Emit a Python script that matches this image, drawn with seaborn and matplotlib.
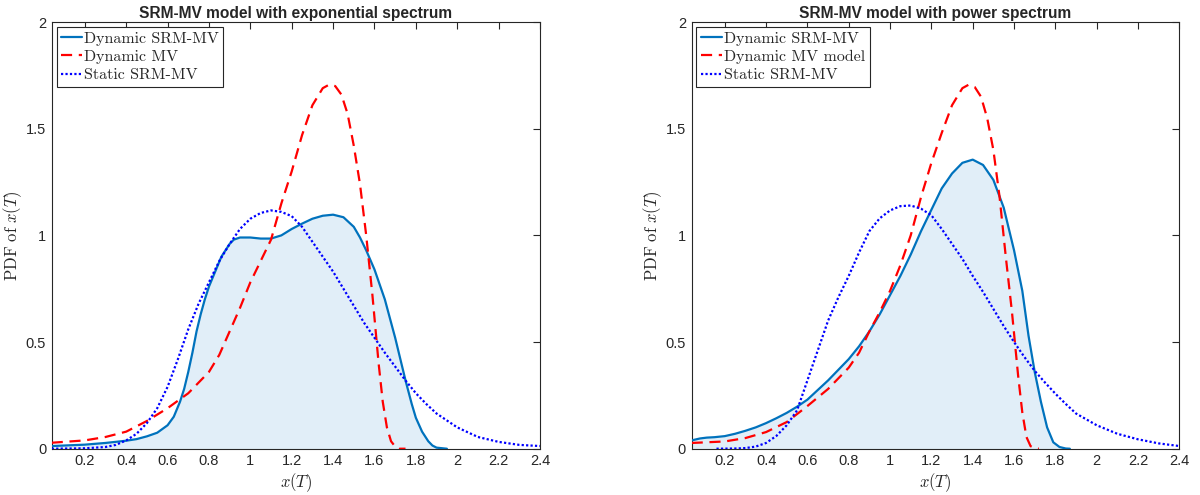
import numpy as np
import pandas as pd
import matplotlib
matplotlib.use('Agg')
import matplotlib.pyplot as plt
import seaborn as sns

# ---- data ----
# left panel: exponential spectrum
exp_dyn_x = [0.04, 0.2, 0.3, 0.4, 0.45, 0.5, 0.55, 0.6, 0.63, 0.66, 0.68, 0.7, 0.72, 0.74, 0.76, 0.78,
             0.8, 0.83, 0.86, 0.88, 0.9, 0.92, 0.95, 1.0, 1.05, 1.1, 1.15, 1.2, 1.25, 1.3, 1.35, 1.4,
             1.45, 1.5, 1.53, 1.56, 1.6, 1.65, 1.7, 1.75, 1.78, 1.8, 1.83, 1.86, 1.88, 1.9, 1.95]
exp_dyn_y = [0.0125, 0.019, 0.027, 0.0375, 0.045, 0.058, 0.075, 0.11, 0.15, 0.22, 0.28, 0.36, 0.45, 0.55,
             0.63, 0.70, 0.76, 0.83, 0.9, 0.93, 0.96, 0.98, 0.99, 0.99, 0.985, 0.985, 1.0, 1.03, 1.055,
             1.078, 1.092, 1.097, 1.085, 1.04, 0.99, 0.93, 0.84, 0.7, 0.52, 0.32, 0.21, 0.145, 0.08,
             0.035, 0.015, 0.005, 0.0]

exp_mv_x = [0.04, 0.2, 0.3, 0.4, 0.5, 0.6, 0.7, 0.8, 0.85, 0.9, 0.95, 1.0, 1.05, 1.1, 1.15, 1.2, 1.25,
            1.3, 1.35, 1.38, 1.41, 1.44, 1.47, 1.5, 1.53, 1.56, 1.59, 1.62, 1.64, 1.66, 1.68, 1.7, 1.72, 1.75]
exp_mv_y = [0.028, 0.039, 0.055, 0.08, 0.13, 0.19, 0.26, 0.36, 0.44, 0.55, 0.66, 0.78, 0.88, 0.98, 1.15,
            1.3, 1.47, 1.61, 1.69, 1.706, 1.70, 1.66, 1.57, 1.42, 1.24, 1.0, 0.72, 0.40, 0.22, 0.1, 0.035,
            0.01, 0.0, 0.0]

exp_st_x = [0.04, 0.2, 0.3, 0.35, 0.4, 0.45, 0.5, 0.55, 0.6, 0.65, 0.7, 0.75, 0.8, 0.85, 0.9, 0.95, 1.0,
            1.05, 1.1, 1.15, 1.2, 1.25, 1.3, 1.35, 1.4, 1.45, 1.5, 1.55, 1.6, 1.65, 1.7, 1.75, 1.8, 1.85,
            1.9, 2.0, 2.1, 2.2, 2.3, 2.4]
exp_st_y = [0.0, 0.002, 0.008, 0.018, 0.039, 0.07, 0.12, 0.19, 0.29, 0.42, 0.56, 0.68, 0.78, 0.88, 0.96,
            1.03, 1.078, 1.105, 1.117, 1.11, 1.09, 1.04, 0.97, 0.9, 0.83, 0.75, 0.67, 0.59, 0.52, 0.45,
            0.385, 0.32, 0.26, 0.21, 0.165, 0.1, 0.055, 0.032, 0.018, 0.0125]

# right panel: power spectrum
pow_dyn_x = [0.04, 0.08, 0.113, 0.15, 0.2, 0.25, 0.3, 0.35, 0.4, 0.45, 0.5, 0.55, 0.6, 0.65, 0.7, 0.75,
             0.8, 0.85, 0.9, 0.95, 1.0, 1.05, 1.1, 1.15, 1.2, 1.25, 1.3, 1.35, 1.4, 1.45, 1.5, 1.55,
             1.6, 1.64, 1.67, 1.7, 1.73, 1.76, 1.79, 1.82, 1.85, 1.87]
pow_dyn_y = [0.039, 0.048, 0.052, 0.054, 0.059, 0.07, 0.084, 0.1, 0.12, 0.143, 0.168, 0.197, 0.23, 0.275,
             0.32, 0.37, 0.42, 0.48, 0.55, 0.63, 0.72, 0.81, 0.91, 1.02, 1.12, 1.22, 1.29, 1.34, 1.355,
             1.33, 1.26, 1.13, 0.93, 0.74, 0.53, 0.36, 0.22, 0.1, 0.03, 0.008, 0.001, 0.0]

pow_mv_x = [0.04, 0.2, 0.3, 0.4, 0.5, 0.6, 0.7, 0.8, 0.85, 0.9, 0.95, 1.0, 1.05, 1.1, 1.15, 1.2, 1.25,
            1.3, 1.35, 1.38, 1.41, 1.44, 1.47, 1.5, 1.53, 1.56, 1.59, 1.62, 1.64, 1.66, 1.68, 1.7, 1.72]
pow_mv_y = [0.027, 0.034, 0.05, 0.078, 0.125, 0.2, 0.28, 0.38, 0.45, 0.55, 0.64, 0.74, 0.86, 1.0, 1.18,
            1.34, 1.48, 1.61, 1.69, 1.706, 1.695, 1.65, 1.55, 1.4, 1.18, 0.9, 0.64, 0.34, 0.17, 0.055,
            0.012, 0.002, 0.0]

pow_st_x = [0.16, 0.25, 0.3, 0.35, 0.4, 0.45, 0.5, 0.55, 0.6, 0.65, 0.7, 0.75, 0.8, 0.85, 0.9, 0.95, 1.0,
            1.05, 1.1, 1.15, 1.2, 1.25, 1.3, 1.35, 1.4, 1.45, 1.5, 1.55, 1.6, 1.65, 1.7, 1.75, 1.8, 1.85,
            1.9, 2.0, 2.1, 2.2, 2.3, 2.4]
pow_st_y = [0.0, 0.001, 0.003, 0.01, 0.027, 0.06, 0.11, 0.18, 0.32, 0.46, 0.6, 0.71, 0.81, 0.92, 1.02,
            1.08, 1.117, 1.137, 1.14, 1.125, 1.094, 1.03, 0.96, 0.89, 0.81, 0.735, 0.655, 0.575, 0.5,
            0.43, 0.365, 0.31, 0.258, 0.21, 0.165, 0.11, 0.07, 0.044, 0.025, 0.0125]

titles = ['SRM-MV model with exponential spectrum', 'SRM-MV model with power spectrum']
labels_left = ['Dynamic SRM-MV', 'Dynamic MV', 'Static SRM-MV']
labels_right = ['Dynamic SRM-MV', 'Dynamic MV model', 'Static SRM-MV']
x_ticks = [0.2, 0.4, 0.6, 0.8, 1, 1.2, 1.4, 1.6, 1.8, 2, 2.2, 2.4]
x_ticklabels = ['0.2', '0.4', '0.6', '0.8', '1', '1.2', '1.4', '1.6', '1.8', '2', '2.2', '2.4']
y_ticks = [0, 0.5, 1, 1.5, 2]
y_ticklabels = ['0', '0.5', '1', '1.5', '2']

sns.set_style('white')
plt.rcParams['font.family'] = ['Liberation Sans', 'DejaVu Sans']
plt.rcParams['mathtext.fontset'] = 'cm'

blue_line = '#0072BD'
fill_col = '#E1EEF8'

fig = plt.figure(figsize=(12, 4.95), dpi=100)
ax1 = fig.add_axes([0.0431, 0.0935, 0.4069, 0.862])
ax2 = fig.add_axes([0.5764, 0.0935, 0.4064, 0.862])

panels = [
    (ax1, exp_dyn_x, exp_dyn_y, exp_mv_x, exp_mv_y, exp_st_x, exp_st_y, labels_left, titles[0]),
    (ax2, pow_dyn_x, pow_dyn_y, pow_mv_x, pow_mv_y, pow_st_x, pow_st_y, labels_right, titles[1]),
]

for ax, dx, dy, mx, my, sx, sy, labs, ttl in panels:
    ax.fill_between(dx, dy, 0, color=fill_col, lw=0, zorder=1)
    sns.lineplot(x=dx, y=dy, ax=ax, color=blue_line, lw=1.6, label=labs[0], sort=False, zorder=3)
    sns.lineplot(x=mx, y=my, ax=ax, color='#FF0000', lw=1.6, label=labs[1], sort=False, zorder=3,
                 linestyle=(0, (5, 3)))
    sns.lineplot(x=sx, y=sy, ax=ax, color='#0000FF', lw=1.6, label=labs[2], sort=False, zorder=3,
                 linestyle=(0, (1, 1)))

    ax.set_xlim(0.04, 2.4)
    ax.set_ylim(0, 2)
    ax.set_xticks(x_ticks)
    ax.set_xticklabels(x_ticklabels)
    ax.set_yticks(y_ticks)
    ax.set_yticklabels(y_ticklabels)
    ax.tick_params(direction='in', length=5, width=0.8, colors='#262626', labelsize=10.5,
                   top=True, right=True, pad=4)
    for s in ax.spines.values():
        s.set_visible(True)
        s.set_color('#262626')
        s.set_linewidth(0.8)

    ax.set_title(ttl, fontsize=11.2, fontweight='bold', pad=3)
    ax.set_xlabel(r'$x(T)$', fontsize=12, labelpad=2, color='#262626')
    ax.set_ylabel(r'$\mathrm{PDF\ of\ }x(T)$', fontsize=12, color='#262626')
    ax.yaxis.set_label_coords(-0.057, 0.5)

    leg = ax.legend(loc='upper left', prop={'family': 'cmr10', 'size': 11.5}, frameon=True,
                    fancybox=False, framealpha=1, edgecolor='#262626', handlelength=1.3,
                    handletextpad=0.1, borderpad=0.3, labelspacing=0.25, borderaxespad=0.3)
    leg.get_frame().set_linewidth(0.8)

fig.savefig('out.png', dpi=100)
